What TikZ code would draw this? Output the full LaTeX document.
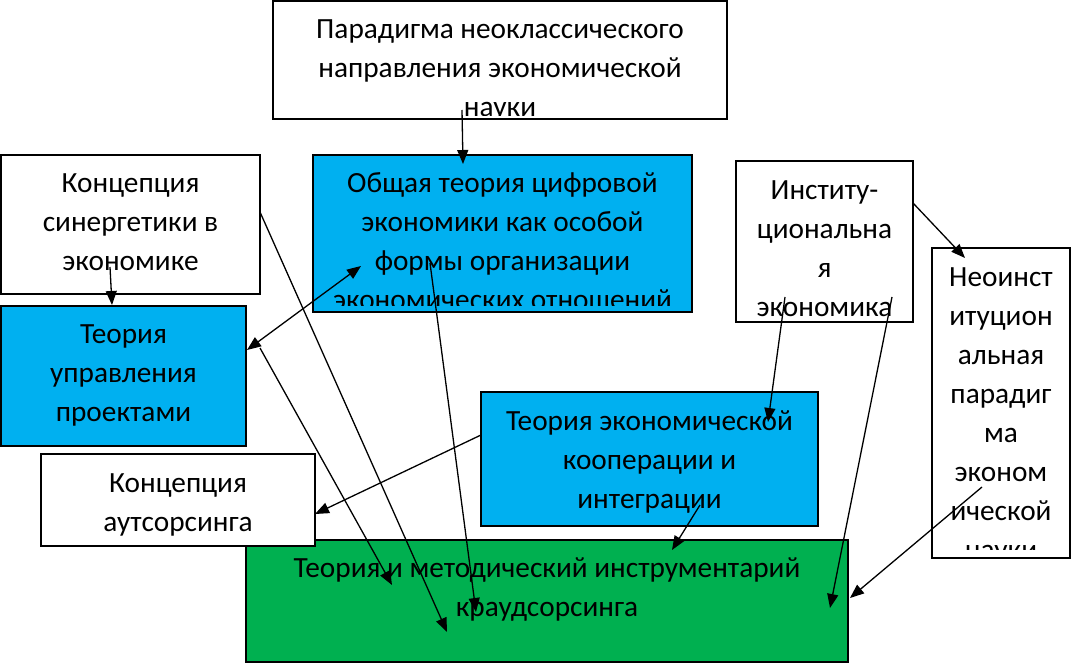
\documentclass[tikz,border=0pt]{standalone}
\usepackage{fontspec}
\setmainfont{Carlito}
\usetikzlibrary{arrows.meta}
\definecolor{wblue}{RGB}{0,176,240}
\definecolor{wgreen}{RGB}{0,176,80}
\tikzset{
  box/.style={draw=black, line width=1.2pt, anchor=north west, inner sep=0pt, outer sep=0pt},
  txt/.style={anchor=north, align=center, inner sep=0pt, yshift=-2pt, font=\fontsize{29.3}{39}\selectfont},
  arr/.style={line width=1.3pt, -{Triangle[length=14pt,width=11pt]}},
  darr/.style={line width=1.3pt, {Triangle[length=14pt,width=11pt]}-{Triangle[length=14pt,width=11pt]}},
}
\begin{document}
\begin{tikzpicture}[x=1pt,y=-1pt]
\useasboundingbox (0,0) rectangle (1071,663);
\fill[white] (0,0) rectangle (1071,663);

% boxes
\node[box, fill=white, minimum width=454pt, minimum height=118pt] (par) at (273,1) {};
\begin{scope}\clip (273,1) rectangle (727,116);
\node[txt] (partxt) at (500,8.7) {\strut Парадигма неоклассического\\направления экономической\\науки};
\end{scope}

\node[box, fill=wblue, minimum width=379pt, minimum height=157pt] (gen) at (313,155) {};
\begin{scope}\clip (313,155) rectangle (692,305);
\node[txt] (gentxt) at (502.5,162.7) {\strut Общая теория цифровой\\экономики как особой\\формы организации\\экономических отношений};
\end{scope}

\node[box, fill=white, minimum width=259pt, minimum height=139pt] (syn) at (1,155) {};
\node[txt] (syntxt) at (130.5,162.7) {\strut Концепция\\синергетики в\\экономике};

\node[box, fill=wblue, minimum width=245pt, minimum height=140pt] (mgmt) at (1,306) {};
\node[txt] (mgmttxt) at (123.5,313.7) {\strut Теория\\управления\\проектами};

\node[box, fill=white, minimum width=177pt, minimum height=161pt] (inst) at (736,161) {};
\node[txt] (insttxt) at (824.5,169.7) {\strut Институ-\\циональна\\я\\экономика};

\node[box, fill=white, minimum width=138pt, minimum height=310pt] (neo) at (932,248) {};
\begin{scope}\clip (932,248) rectangle (1070,549);
\node[txt] (neotxt) at (1001,256.7) {\strut Неоинст\\итуцион\\альная\\парадиг\\ма\\эконом\\ической\\науки};
\end{scope}

\node[box, fill=wblue, minimum width=337pt, minimum height=134pt] (coop) at (481,392) {};
\node[txt] (cooptxt) at (649.5,400.7) {\strut Теория экономической\\кооперации и\\интеграции};

\node[box, fill=wgreen, minimum width=602pt, minimum height=122pt] (crowd) at (246,540) {};
\node[txt] (crowdtxt) at (547,547.7) {\strut Теория и методический инструментарий\\краудсорсинга};

\node[box, fill=white, minimum width=274pt, minimum height=92pt] (out) at (41,454) {};
\node[txt] (outtxt) at (178,462.7) {\strut Концепция\\аутсорсинга};

% connector end points
\coordinate (a1) at (462,110); \coordinate (a2) at (463,164);
\coordinate (b1) at (110,267); \coordinate (b2) at (112,305);
\coordinate (c1) at (247,350); \coordinate (c2) at (361,266);
\coordinate (d1) at (260,212); \coordinate (d2) at (447,632);
\coordinate (e1) at (260,348); \coordinate (e2) at (392,585);
\coordinate (f1) at (430,263); \coordinate (f2) at (476,612);
\coordinate (g1) at (481,435); \coordinate (g2) at (315,514);
\coordinate (h1) at (700,505); \coordinate (h2) at (672,550);
\coordinate (i1) at (785,297); \coordinate (i2) at (768,422);
\coordinate (j1) at (892,297); \coordinate (j2) at (830,608);
\coordinate (k1) at (913,203); \coordinate (k2) at (965,258);
\coordinate (l1) at (982,487); \coordinate (l2) at (850,598);

% connectors
\draw[arr] (a1) -- (a2);
\draw[arr] (b1) -- (b2);
\draw[darr] (c1) -- (c2);
\draw[arr] (d1) -- (d2);
\draw[arr] (e1) -- (e2);
\draw[arr] (f1) -- (f2);
\draw[arr] (g1) -- (g2);
\draw[arr] (h1) -- (h2);
\draw[arr] (i1) -- (i2);
\draw[arr] (j1) -- (j2);
\draw[arr] (k1) -- (k2);
\draw[arr] (l1) -- (l2);
\end{tikzpicture}
\end{document}
